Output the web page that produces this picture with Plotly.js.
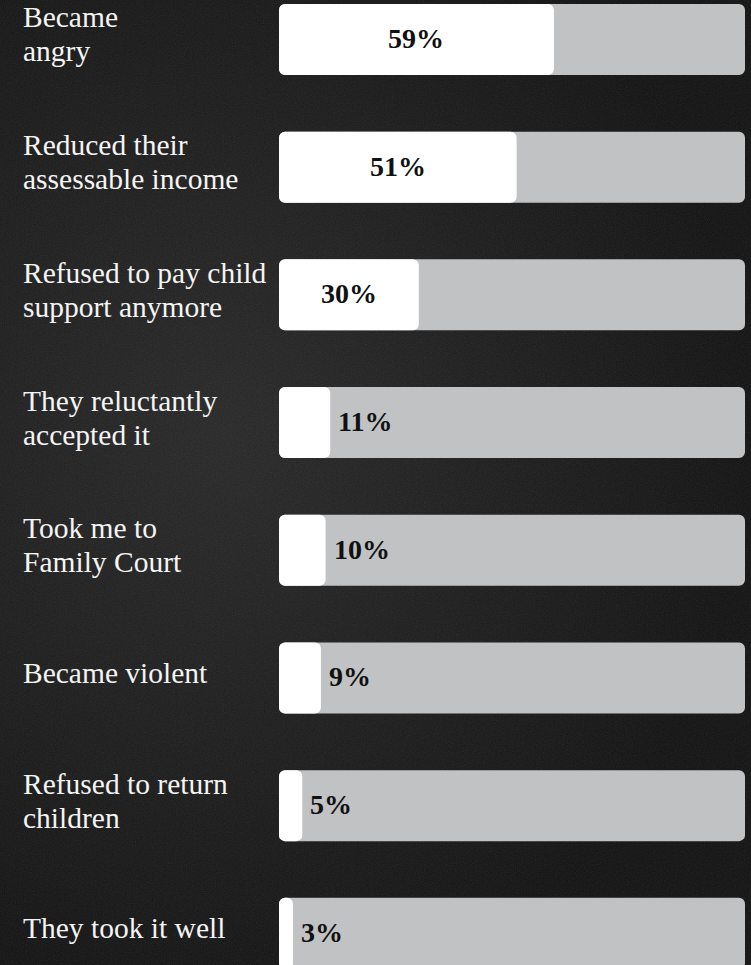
<!DOCTYPE html>
<html>
<head>
<meta charset="utf-8">
<script src="https://cdn.plot.ly/plotly-3.0.1.min.js"></script>
<style>
  html, body { margin: 0; padding: 0; }
  body {
    position: relative;
    width: 751px; height: 965px; overflow: hidden;
    background: radial-gradient(ellipse 70% 60% at 30% 45%, #282828 0%, #1c1c1c 55%, #121212 100%);
  }
  body::before {
    content: ''; position: absolute; left: 0; top: 0; width: 751px; height: 965px;
    background-image: url("data:image/svg+xml;utf8,<svg xmlns='http://www.w3.org/2000/svg' width='751' height='965'><filter id='n'><feTurbulence type='fractalNoise' baseFrequency='0.9' numOctaves='2' stitchTiles='stitch'/><feColorMatrix type='saturate' values='0'/></filter><rect width='100%' height='100%' filter='url(%23n)'/></svg>");
    opacity: 0.10;
    pointer-events: none;
  }
  #chart { position: relative; width: 751px; height: 965px; }
</style>
</head>
<body>
<div id="chart"></div>
<script>
// ---- data ----
const categories = [
  'Became\nangry',
  'Reduced their\nassessable income',
  'Refused to pay child\nsupport anymore',
  'They reluctantly\naccepted it',
  'Took me to\nFamily Court',
  'Became violent',
  'Refused to return\nchildren',
  'They took it well'
];
const values = [59, 51, 30, 11, 10, 9, 5, 3];
const valueLabels = ['59%', '51%', '30%', '11%', '10%', '9%', '5%', '3%'];
const maxValue = 100;

// ---- styles ----
const GRAY = '#c1c2c4';
const WHITE = '#ffffff';
const RADIUS = 6;

const common = {
  type: 'bar', orientation: 'h', y: categories,
  base: values.map(() => 0),   // explicit base so both ends get rounded corners
  hoverinfo: 'skip', showlegend: false
};
const traces = [
  Object.assign({}, common, {
    x: values.map(() => maxValue),
    marker: { color: GRAY, cornerradius: RADIUS, line: { width: 0 } }
  }),
  Object.assign({}, common, {
    x: values,
    marker: { color: WHITE, cornerradius: RADIUS, line: { width: 0 } }
  })
];

const annotations = [];
// category labels (one annotation per line)
const LINE = 34;
categories.forEach((c, i) => {
  const lines = c.split('\n');
  lines.forEach((ln, j) => {
    annotations.push({
      xref: 'paper', yref: 'y', x: -0.553, y: c,
      xanchor: 'left', yanchor: 'middle',
      yshift: ((lines.length - 1) / 2 - j) * LINE + 5,
      text: ln, showarrow: false,
      font: { family: 'Liberation Serif, serif', size: 29.5, color: '#f4f4f4' }
    });
  });
});
// value labels
values.forEach((v, i) => {
  const inside = v >= 20;
  annotations.push({
    xref: 'x', yref: 'y',
    x: inside ? v / 2 : v, y: categories[i],
    xanchor: inside ? 'center' : 'left', yanchor: 'middle',
    xshift: inside ? 0 : 6,
    yshift: 1,
    text: '<b>' + valueLabels[i] + '</b>', showarrow: false,
    font: { family: 'Liberation Serif, serif', size: 28, color: '#111111' }
  });
});

const layout = {
  width: 751, height: 965,
  margin: { l: 279, r: 6, t: 0, b: 0, pad: 0 },
  paper_bgcolor: 'rgba(0,0,0,0)',
  plot_bgcolor: 'rgba(0,0,0,0)',
  barmode: 'overlay',
  bargap: 0.444,
  xaxis: { range: [0, maxValue], visible: false, fixedrange: true },
  yaxis: { type: 'category', range: [7.248, -0.309], visible: false, fixedrange: true },
  annotations: annotations,
  showlegend: false
};

Plotly.newPlot('chart', traces, layout, { displayModeBar: false, staticPlot: true });
</script>
</body>
</html>
